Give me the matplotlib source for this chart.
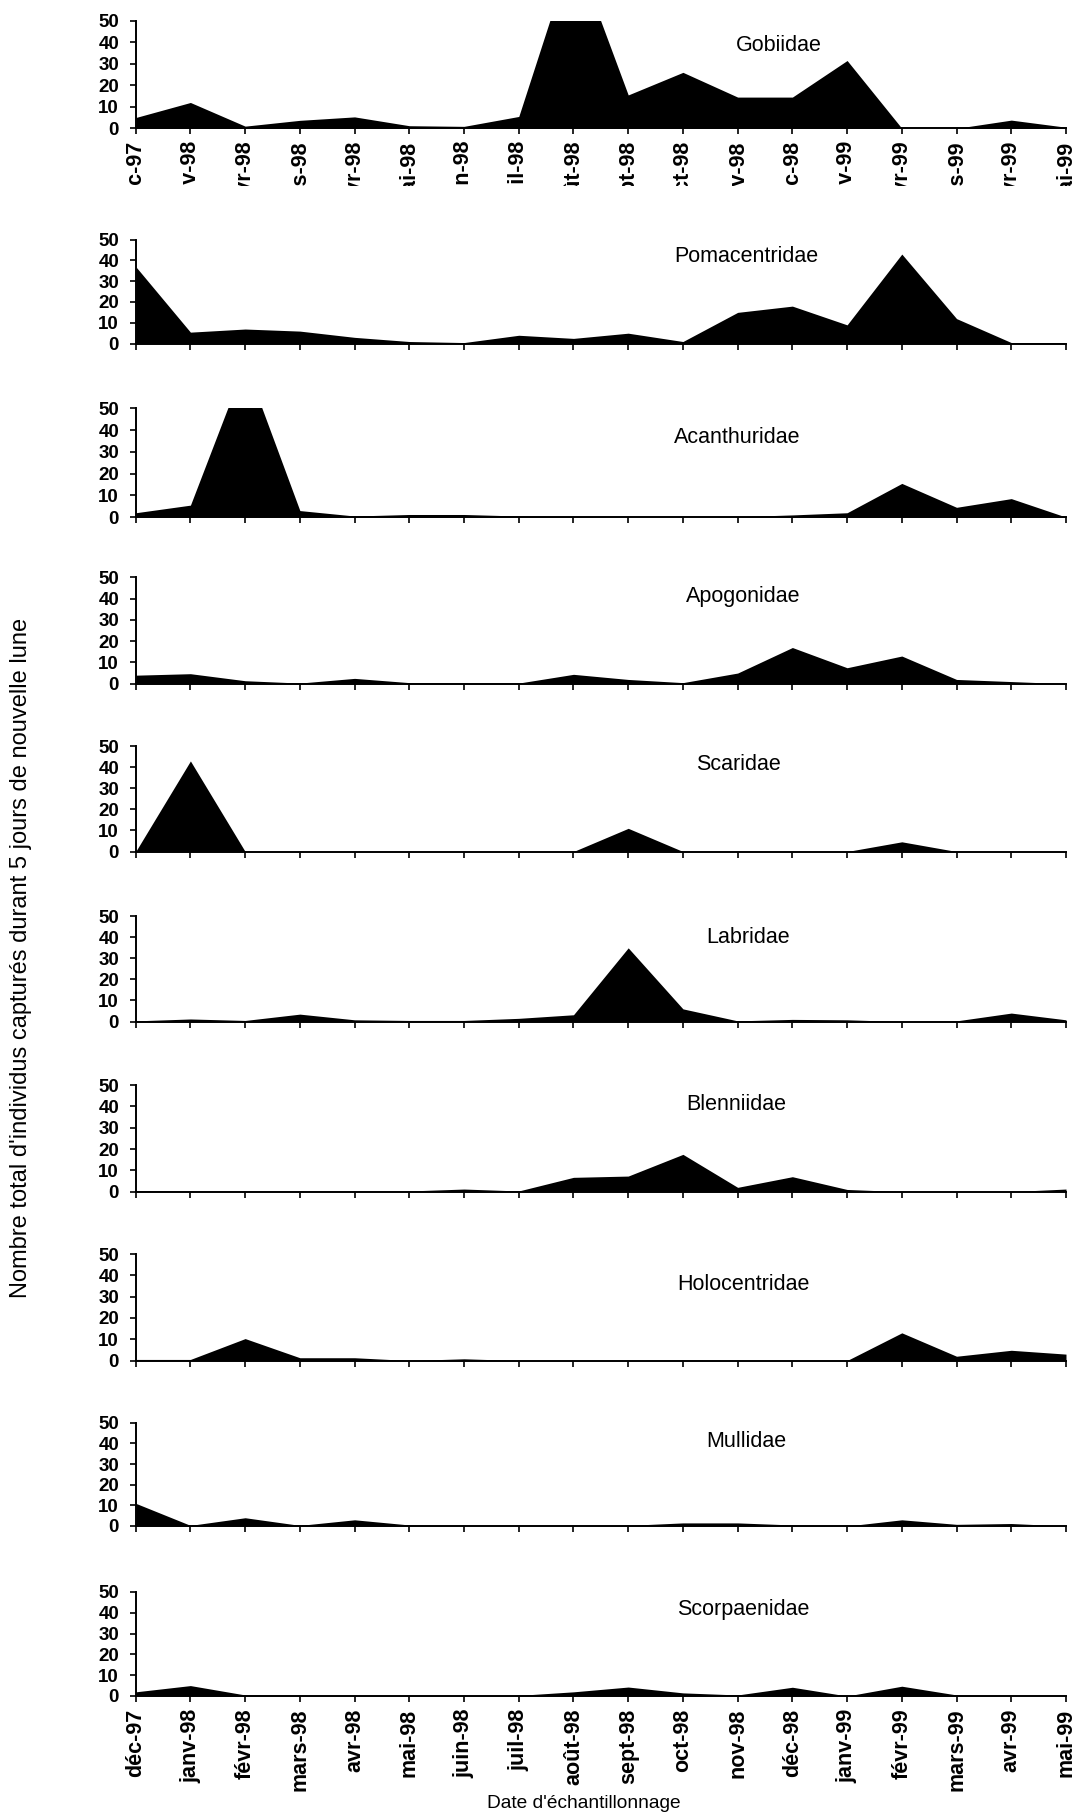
import matplotlib
matplotlib.use("Agg")
import matplotlib.pyplot as plt
from matplotlib.transforms import Bbox, TransformedBbox

# ---------------- data ----------------
months = ['déc-97', 'janv-98', 'févr-98', 'mars-98', 'avr-98', 'mai-98',
          'juin-98', 'juil-98', 'août-98', 'sept-98', 'oct-98', 'nov-98',
          'déc-98', 'janv-99', 'févr-99', 'mars-99', 'avr-99', 'mai-99']

families = ['Gobiidae', 'Pomacentridae', 'Acanthuridae', 'Apogonidae', 'Scaridae',
            'Labridae', 'Blenniidae', 'Holocentridae', 'Mullidae', 'Scorpaenidae']

gobiidae      = [5, 12, 1, 3.7, 5.3, 1.2, 0.9, 5.5, 84, 15.5, 26, 14.5, 14.5, 31.5, 0, 0, 3.8, 0.5]
pomacentridae = [37, 5.5, 7, 6, 3, 1, 0.5, 4, 2.5, 5, 1, 15, 18, 9, 43, 12, 0.5, 0.5]
acanthuridae  = [2, 5.5, 71, 3, 0.5, 1.2, 1.2, 0.5, 0.3, 0, 0, 0.2, 1, 2, 15.5, 4.5, 8.5, 0]
apogonidae    = [4, 4.7, 1.4, 0.3, 2.5, 0.5, 0.3, 0.3, 4.4, 2, 0.5, 5, 17, 7.5, 13, 2, 1, 0]
scaridae      = [0, 43, 0, 0, 0, 0, 0, 0, 0, 11, 0, 0, 0, 0, 4.6, 0, 0, 0]
labridae      = [0.3, 1.2, 0.5, 3.5, 0.8, 0.5, 0.5, 1.5, 3.2, 35, 6, 0.3, 1, 0.8, 0, 0.3, 4, 0.8]
blenniidae    = [0.5, 0.3, 0.3, 0.3, 0.3, 0.3, 1.2, 0.3, 6.7, 7.3, 17.5, 2, 7, 1, 0, 0, 0, 1.2]
holocentridae = [0.5, 0.5, 10.3, 1.3, 1.3, 0, 0.8, 0, 0, 0, 0.2, 0, 0, 0, 13, 2, 4.8, 3]
mullidae      = [11, 0.3, 4, 0.3, 3, 0.5, 0, 0, 0, 0.3, 1.5, 1.5, 0.5, 0, 3, 0.8, 1.2, 0]
scorpaenidae  = [2, 5, 0.5, 0.3, 0.3, 0.3, 0.3, 0.3, 2, 4.3, 1.5, 0.5, 4.2, 0, 4.7, 0.5, 0, 0]

series = [gobiidae, pomacentridae, acanthuridae, apogonidae, scaridae,
          labridae, blenniidae, holocentridae, mullidae, scorpaenidae]

y_ticks = [0, 10, 20, 30, 40, 50]

# ---------------- layout ----------------
W, H = 1077, 1814
left_px, right_px = 135.7, 1066
panels_px = [(20.7, 128.3), (239.5, 343.6), (408.4, 517.1), (577.3, 683.7),
             (746.2, 851.5), (916.3, 1021.5), (1085.2, 1191.6), (1254.1, 1360.5),
             (1422.8, 1526.0), (1591.9, 1696.0)]
title_pos = [(11.76, 38.7), (11.15, 41.7), (11.0, 36.7), (11.1, 40.8), (11.02, 41.2),
             (11.19, 40.1), (10.98, 40.8), (11.1, 35.9), (11.15, 41.1), (11.1, 41.7)]

plt.rcParams['font.family'] = ['Liberation Sans', 'DejaVu Sans']

fig = plt.figure(figsize=(W / 100, H / 100), dpi=100)
x = list(range(len(months)))

for i, (name, vals) in enumerate(zip(families, series)):
    top, bot = panels_px[i]
    ax = fig.add_axes([left_px / W, 1 - bot / H, (right_px - left_px) / W, (bot - top) / H])
    ax.fill_between(x, vals, 0, color='black', linewidth=0)
    ax.set_xlim(0, len(months) - 1)
    ax.set_ylim(0, 50)
    for s in ['top', 'right']:
        ax.spines[s].set_visible(False)
    for s in ['left', 'bottom']:
        ax.spines[s].set_linewidth(1.4)
        ax.spines[s].set_color('black')
    ax.set_yticks(y_ticks)
    ax.set_yticklabels([str(v) for v in y_ticks], fontsize=13.5, fontweight='bold')
    ax.set_xticks(x)
    ax.tick_params(axis='both', direction='out', length=4, width=1.2, color='black')
    ax.tick_params(axis='y', pad=8)
    ax.tick_params(axis='x', pad=5)
    if i == 0 or i == len(families) - 1:
        ax.set_xticklabels(months, rotation=90, fontsize=15.5, fontweight='bold')
    else:
        ax.set_xticklabels([''] * len(months))
    tx, ty = title_pos[i]
    ax.text(tx, ty, name, ha='center', va='center', fontsize=15.5)
    if i == 0:
        clip = TransformedBbox(Bbox([[0, 1 - 186 / H], [1, 1]]), fig.transFigure)
        for lbl in ax.get_xticklabels():
            lbl.set_clip_box(clip)
            lbl.set_clip_on(True)

fig.text(21 / W, 1 - 958 / H, "Nombre total d'individus capturés durant 5 jours de nouvelle lune",
         rotation=90, ha='center', va='center', fontsize=17)
fig.text(584 / W, 1 - 1804 / H, "Date d'échantillonnage", ha='center', va='center',
         fontsize=13.8)

fig.savefig('out.png', dpi=100)
